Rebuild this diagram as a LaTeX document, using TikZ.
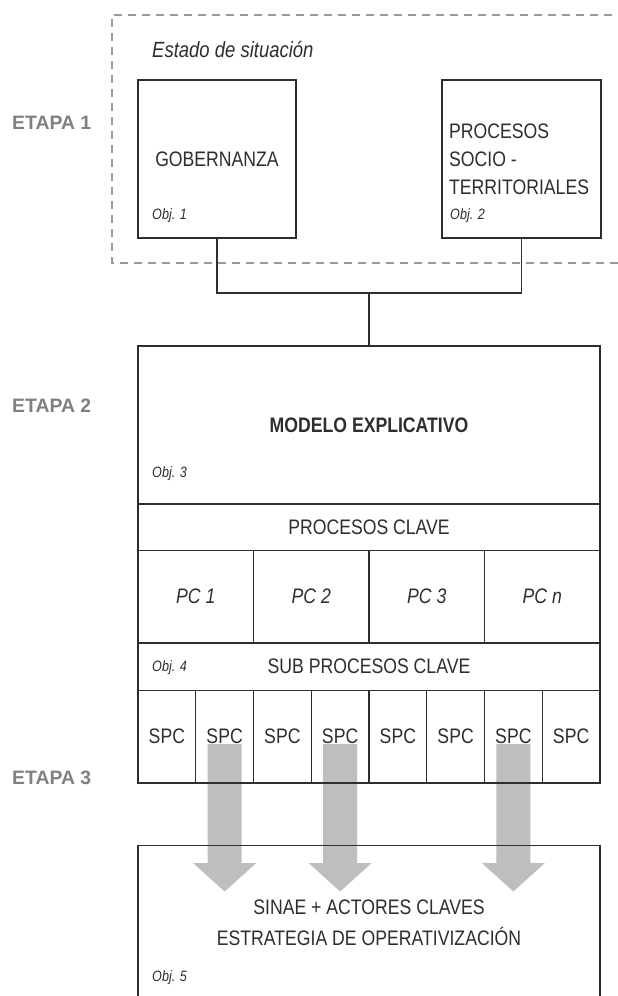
\documentclass[tikz,border=0pt]{standalone}
\usepackage{fontspec}
\setmainfont[FakeStretch=0.84]{Liberation Sans}
\newfontfamily\etapafont{Liberation Sans}
\usetikzlibrary{calc}
\definecolor{ink}{HTML}{2E2E2E}
\definecolor{etapa}{HTML}{808080}
\definecolor{arrowgray}{HTML}{BDBEC0}
\definecolor{dashgray}{HTML}{9A9A9A}
\pgfdeclarelayer{background}
\pgfsetlayers{background,main}
\begin{document}
\begin{tikzpicture}[x=1pt,y=-1pt,
  box/.style={draw=ink, line width=1.4pt, rectangle, inner sep=0pt, text=ink, font=\fontsize{21}{25}\selectfont},
  lbl/.style={inner sep=0pt, text=ink, font=\fontsize{21}{25}\selectfont},
  obj/.style={inner sep=0pt, anchor=west, text=ink, font=\fontsize{15}{18}\selectfont\itshape},
  etapalbl/.style={inner sep=0pt, anchor=west, text=etapa, font=\etapafont\bfseries\fontsize{19.4}{22}\selectfont},
  conn/.style={draw=ink, line width=1.4pt},
  spcbox/.style={box, minimum width=57.75, minimum height=92.5},
  pcbox/.style={box, minimum width=115.5, minimum height=92.5, font=\fontsize{21}{25}\selectfont\itshape}
]
\useasboundingbox (0,0) rectangle (618,996);

% stage labels
\node[etapalbl] (e1) at (12,123) {ETAPA 1};
\node[etapalbl] (e2) at (12,406) {ETAPA 2};
\node[etapalbl] (e3) at (12,778) {ETAPA 3};

% stage 1 frame
\draw[dashgray, line width=1.4pt, dash pattern=on 8pt off 6pt] (640,15) -- (112,15) -- (112,263) -- (640,263);
\node[lbl, anchor=west, font=\fontsize{22}{26}\selectfont\itshape] (estado) at (152,50) {Estado de situación};

\node[box, minimum width=158, minimum height=158] (gob) at (217,159) {GOBERNANZA};
\node[obj] (o1) at (152,216) {Obj. 1};

\node[box, minimum width=159, minimum height=158] (proc) at (521.5,159) {};
\node[lbl, anchor=west, align=left, font=\fontsize{21}{28}\selectfont] (proctxt) at (449,159) {PROCESOS\\SOCIO -\\TERRITORIALES};
\node[obj] (o2) at (450,216) {Obj. 2};

% stage 2
\node[box, minimum width=462, minimum height=158, font=\fontsize{21}{25}\selectfont\bfseries] (modelo) at (369,425) {MODELO EXPLICATIVO};
\node[obj] (o3) at (152,474) {Obj. 3};

\coordinate (j) at (369,293);
\draw[conn] (gob.south) |- (j) -| (proc.south);
\draw[conn] (j) -- (modelo.north);

\node[box, minimum width=462, minimum height=46.5] (pcl) at (369,527.25) {PROCESOS CLAVE};
\node[pcbox] (pc1) at (195.75,596.75) {PC 1};
\node[pcbox] (pc2) at (311.25,596.75) {PC 2};
\node[pcbox] (pc3) at (426.75,596.75) {PC 3};
\node[pcbox] (pc4) at (542.25,596.75) {PC n};

\node[box, minimum width=462, minimum height=47.5] (sub) at (369,666.75) {SUB PROCESOS CLAVE};
\node[obj] (o4) at (152,668) {Obj. 4};

\foreach \i in {1,...,8} {
  \node[spcbox] (s\i) at ({138+57.75*(\i-0.5)},736.75) {SPC};
}

% stage 3
\node[box, minimum width=462, minimum height=170, anchor=north] (fin) at (369,845) {};
\node[lbl, anchor=base] (sinae) at (369,914.5) {SINAE + ACTORES CLAVES};
\node[lbl, anchor=base] (estr) at (369,945.5) {ESTRATEGIA DE OPERATIVIZACIÓN};
\node[obj] (o5) at (152,978) {Obj. 5};

% background, faint strip and big arrows
\begin{pgfonlayer}{background}
\fill[white] (0,0) rectangle (618,996);
\fill[left color=white, middle color=black!3, right color=white] (70,0) rectangle (112,996);
\foreach \c in {s2,s4,s7} {
  \fill[arrowgray] ($(\c.center)+(-17,7.25)$) -- ($(\c.center)+(17,7.25)$) -- ($(\c.center)+(17,126.25)$) -- ($(\c.center)+(31.5,126.25)$) -- ($(\c.center)+(0,154.75)$) -- ($(\c.center)+(-31.5,126.25)$) -- ($(\c.center)+(-17,126.25)$) -- cycle;
}
\end{pgfonlayer}
\end{tikzpicture}
\end{document}
